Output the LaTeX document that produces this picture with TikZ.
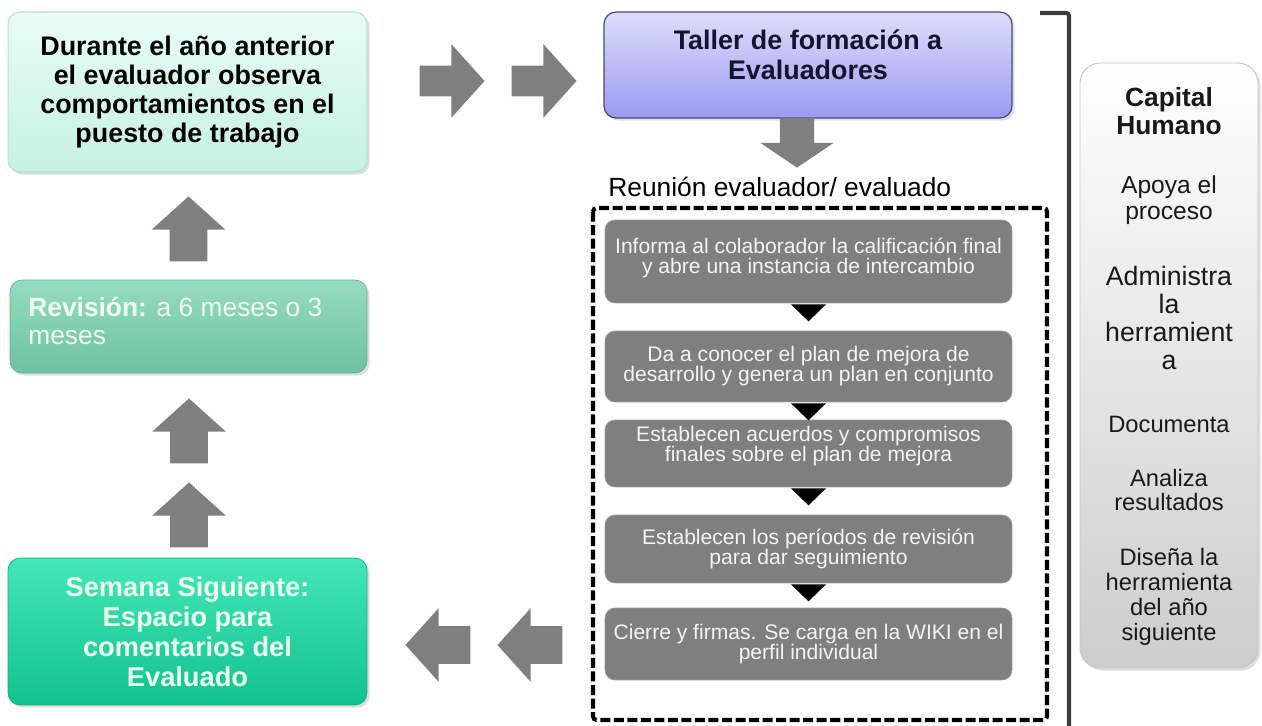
\documentclass[tikz,border=0pt]{standalone}
\usepackage{fontspec}
\setmainfont{Liberation Sans}
\usepackage{xcolor}
\usetikzlibrary{shapes.arrows, shadows, positioning, calc}
\definecolor{arrowgray}{HTML}{7F7F7F}
\definecolor{stepgray}{HTML}{7F7F7F}
\definecolor{steptext}{HTML}{F4F4F4}
\definecolor{mintA}{HTML}{E8FDF7}
\definecolor{mintB}{HTML}{C6F1E3}
\definecolor{mintedge}{HTML}{B2DFD0}
\definecolor{revA}{HTML}{96DBC1}
\definecolor{revB}{HTML}{6EC2A1}
\definecolor{nextA}{HTML}{45E6B8}
\definecolor{nextB}{HTML}{12C28E}
\definecolor{lilacA}{HTML}{DEDEFC}
\definecolor{lilacB}{HTML}{9A9AF0}
\definecolor{lilacedge}{HTML}{4A4A7A}
\definecolor{navytext}{HTML}{14142E}
\definecolor{panelB}{HTML}{CDCDCD}
\definecolor{paneledge}{HTML}{C4C4C4}
\definecolor{bracketgray}{HTML}{3C3C3C}

\begin{document}
\begin{tikzpicture}[x=0.02cm, y=-0.02cm,
  box/.style={rounded corners=0.24cm, inner sep=0pt, align=center},
  softshadow/.style={drop shadow={shadow xshift=1.5pt, shadow yshift=-1.5pt, opacity=.25}},
  blockarrow/.style={single arrow, fill=arrowgray, draw=none, inner xsep=0pt, inner ysep=0.37cm,
    minimum height=1.3cm, minimum width=1.46cm, single arrow head extend=0.36cm,
    single arrow tip angle=96, anchor=tip},
  stepbox/.style={box, rounded corners=0.2cm, fill=stepgray, draw=stepgray!80!white,
    line width=0.4pt, minimum width=8.14cm, text=steptext,
    font=\fontsize{12}{11.4}\selectfont},
  paneltext/.style={inner sep=0pt, align=center, text=black!90}]
\useasboundingbox (0,0) rectangle (1262,726);

% Left column
\node[box, softshadow, top color=mintA, bottom color=mintB, draw=mintedge, line width=0.6pt,
  minimum width=7.18cm, minimum height=3.2cm, font=\fontsize{15.3}{16.5}\selectfont\bfseries]
  (prev) at (187.5,92) {Durante el año anterior\\el evaluador observa\\comportamientos en el\\puesto de trabajo};
\node[box, softshadow, top color=revA, bottom color=revB, draw=revB!90!black, line width=0.4pt,
  minimum width=7.14cm, minimum height=1.86cm] (rev) at (188.5,326.5) {};
\node[inner sep=0pt, anchor=west, align=left, text=white!94!green, font=\fontsize{15}{16}\selectfont]
  (revtext) at (28,321) {\textbf{Revisión:} a 6 meses o 3\\meses};
\node[box, softshadow, top color=nextA, bottom color=nextB, draw=nextB!90!black, line width=0.4pt,
  minimum width=7.18cm, minimum height=2.94cm, text=white!93!green, font=\fontsize{15.5}{17}\selectfont\bfseries]
  (next) at (187.5,631.5) {Semana Siguiente:\\Espacio para\\comentarios del\\Evaluado};

% Block arrows (placed by their tips)
\node[blockarrow, rotate=90] (u1) at (188.5,196) {};
\node[blockarrow, rotate=90] (u2) at (189,398) {};
\node[blockarrow, rotate=90] (u3) at (189,482) {};
\node[blockarrow, inner ysep=0.3cm, single arrow head extend=0.43cm] (r1) at (485,81) {};
\node[blockarrow, inner ysep=0.3cm, single arrow head extend=0.43cm] (r2) at (577,81) {};
\node[blockarrow, rotate=180] (l1) at (405,645) {};
\node[blockarrow, rotate=180] (l2) at (497,645) {};

% Taller
\node[box, softshadow, top color=lilacA, bottom color=lilacB, draw=lilacedge, line width=0.7pt,
  minimum width=8.16cm, minimum height=2.12cm] (taller) at (808,65) {};
\node[inner sep=0pt, align=center, text=navytext, font=\fontsize{15.3}{17}\selectfont\bfseries]
  (tallertext) at (808,55) {Taller de formación a\\Evaluadores};
\node[blockarrow, rotate=-90, minimum height=1.0cm, inner ysep=0.33cm, single arrow head extend=0.38cm,
  single arrow tip angle=112] (d1) at (797,168) {};

% Reunion
\node[inner sep=0pt, anchor=base west, font=\fontsize{15}{18}\selectfont] (reunion) at (608,197) {Reunión evaluador/ evaluado};
\draw[line width=2.3pt, dash pattern=on 5.7pt off 2pt, rounded corners=2pt] (593,208) rectangle (1047,720);

\node[stepbox, minimum height=1.66cm] (s1) at (808.5,261.5) {Informa al colaborador la calificación final\\y abre una instancia de intercambio\\[-5.1pt]\mbox{}};
\node[stepbox, minimum height=1.42cm] (s2) at (808.5,366.5) {Da a conocer el plan de mejora de\\desarrollo y genera un plan en conjunto};
\node[stepbox, minimum height=1.34cm] (s3) at (808.5,453.5) {Establecen acuerdos y compromisos\\finales sobre el plan de mejora\\[-0.6pt]\mbox{}};
\node[stepbox, minimum height=1.36cm] (s4) at (808.5,549) {Establecen los períodos de revisión\\para dar seguimiento};
\node[stepbox, minimum height=1.44cm] (s5) at (808.5,644) {Cierre y firmas. Se carga en la WIKI en el\\perfil individual};
\foreach \a in {s1,s2,s3,s4}
  \fill[black] (\a.south) ++(-17.5,1) -- ++(35,0) -- ++(-17.5,17) -- cycle;

% Bracket
\draw[bracketgray, line width=2.3pt, rounded corners=1.5pt] (1040,13) -- (1069,13) -- (1069,726);

% Capital Humano
\node[box, softshadow, rounded corners=0.4cm, top color=white, bottom color=panelB, draw=paneledge, line width=0.5pt,
  minimum width=3.56cm, minimum height=12.1cm] (panel) at (1169,365.5) {};
\node[paneltext, font=\fontsize{15}{16}\selectfont\bfseries] (cap) at (1169,111) {Capital\\Humano};
\node[paneltext, font=\fontsize{14}{15}\selectfont] (apoya) at (1169,200) {Apoya el\\proceso};
\node[paneltext, font=\fontsize{15.2}{16}\selectfont] (admin) at (1169,318) {Administra\\la\\herramient\\a};
\node[paneltext, font=\fontsize{13.5}{14.5}\selectfont] (docu) at (1169,424) {Documenta};
\node[paneltext, font=\fontsize{13.5}{14.2}\selectfont] (anal) at (1169,490) {Analiza\\resultados};
\node[paneltext, font=\fontsize{13.5}{14.3}\selectfont] (dise) at (1169,597) {Diseña la\\herramienta\\del año\\siguiente};
\end{tikzpicture}
\end{document}
